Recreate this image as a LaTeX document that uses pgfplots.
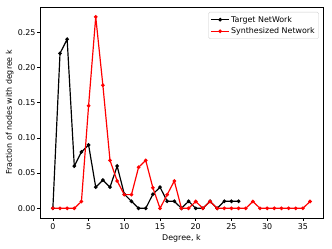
\documentclass[border=0pt]{standalone}
\usepackage{pgfplots}
\pgfplotsset{compat=1.18}
\usepackage{fontspec}
\setmainfont{DejaVu Sans}
\begin{document}
\begin{tikzpicture}
\useasboundingbox (-50.5bp,-38bp) rectangle (368.5bp,275bp);
\begin{axis}[
  scale only axis, width=357bp, height=266bp,
  at={(0,0)}, anchor=south west,
  xmin=-1.8, xmax=37.8, ymin=-0.0136, ymax=0.2856,
  xtick={0,5,...,35}, ytick={0,0.05,0.10,0.15,0.20,0.25},
  yticklabel style={xshift=1.3bp, /pgf/number format/fixed, /pgf/number format/fixed zerofill, /pgf/number format/precision=2},
  /pgf/number format/assume math mode=true,
  tick align=outside, tick pos=left,
  major tick length=3.5bp,
  every tick/.style={black, line width=0.8bp},
  axis line style={line width=0.8bp},
  ticklabel style={font=\fontsize{10bp}{12bp}\selectfont},
  label style={font=\fontsize{10bp}{12bp}\selectfont},
  xlabel={Degree, k}, ylabel={Fraction of nodes with degree k},
  xlabel style={at={(axis description cs:0.5,0)}, anchor=base, yshift=-28.8bp},
  ylabel style={at={(axis description cs:0,0.5)}, anchor=base, yshift=35.5bp},
  legend style={at={(0.986,0.977)}, anchor=north east, draw=black!20, rounded corners=2bp,
    font=\fontsize{10bp}{12bp}\selectfont, inner xsep=3bp, inner ysep=3bp, row sep=1.5bp},
  legend cell align=left,
  legend image code/.code={
    \draw[#1, mark repeat=2, mark phase=2] plot coordinates {(0bp,0bp) (11bp,0bp) (22bp,0bp)};
  },
]
\addplot[black, line width=1.5bp, mark=*, mark size=1.5bp] coordinates {
(0,0) (1,0.22) (2,0.24) (3,0.06) (4,0.08) (5,0.09) (6,0.03) (7,0.04) (8,0.03) (9,0.06)
(10,0.02) (11,0.01) (12,0) (13,0) (14,0.02) (15,0.03) (16,0.01) (17,0.01) (18,0) (19,0.01)
(20,0) (21,0) (22,0.01) (23,0) (24,0.01) (25,0.01) (26,0.01)};
\addlegendentry{Target NetWork}
\addplot[red, line width=1.5bp, mark=*, mark size=1.5bp] coordinates {
(0,0) (1,0) (2,0) (3,0) (4,0.0097) (5,0.1456) (6,0.2718) (7,0.1748) (8,0.068) (9,0.0388)
(10,0.0194) (11,0.0194) (12,0.0583) (13,0.068) (14,0.0291) (15,0) (16,0.0194) (17,0.0388) (18,0) (19,0)
(20,0.0097) (21,0) (22,0.0097) (23,0) (24,0) (25,0) (26,0) (27,0) (28,0.0097) (29,0)
(30,0) (31,0) (32,0) (33,0) (34,0) (35,0) (36,0.0097)};
\addlegendentry{Synthesized Network}
\end{axis}
\end{tikzpicture}
\end{document}
